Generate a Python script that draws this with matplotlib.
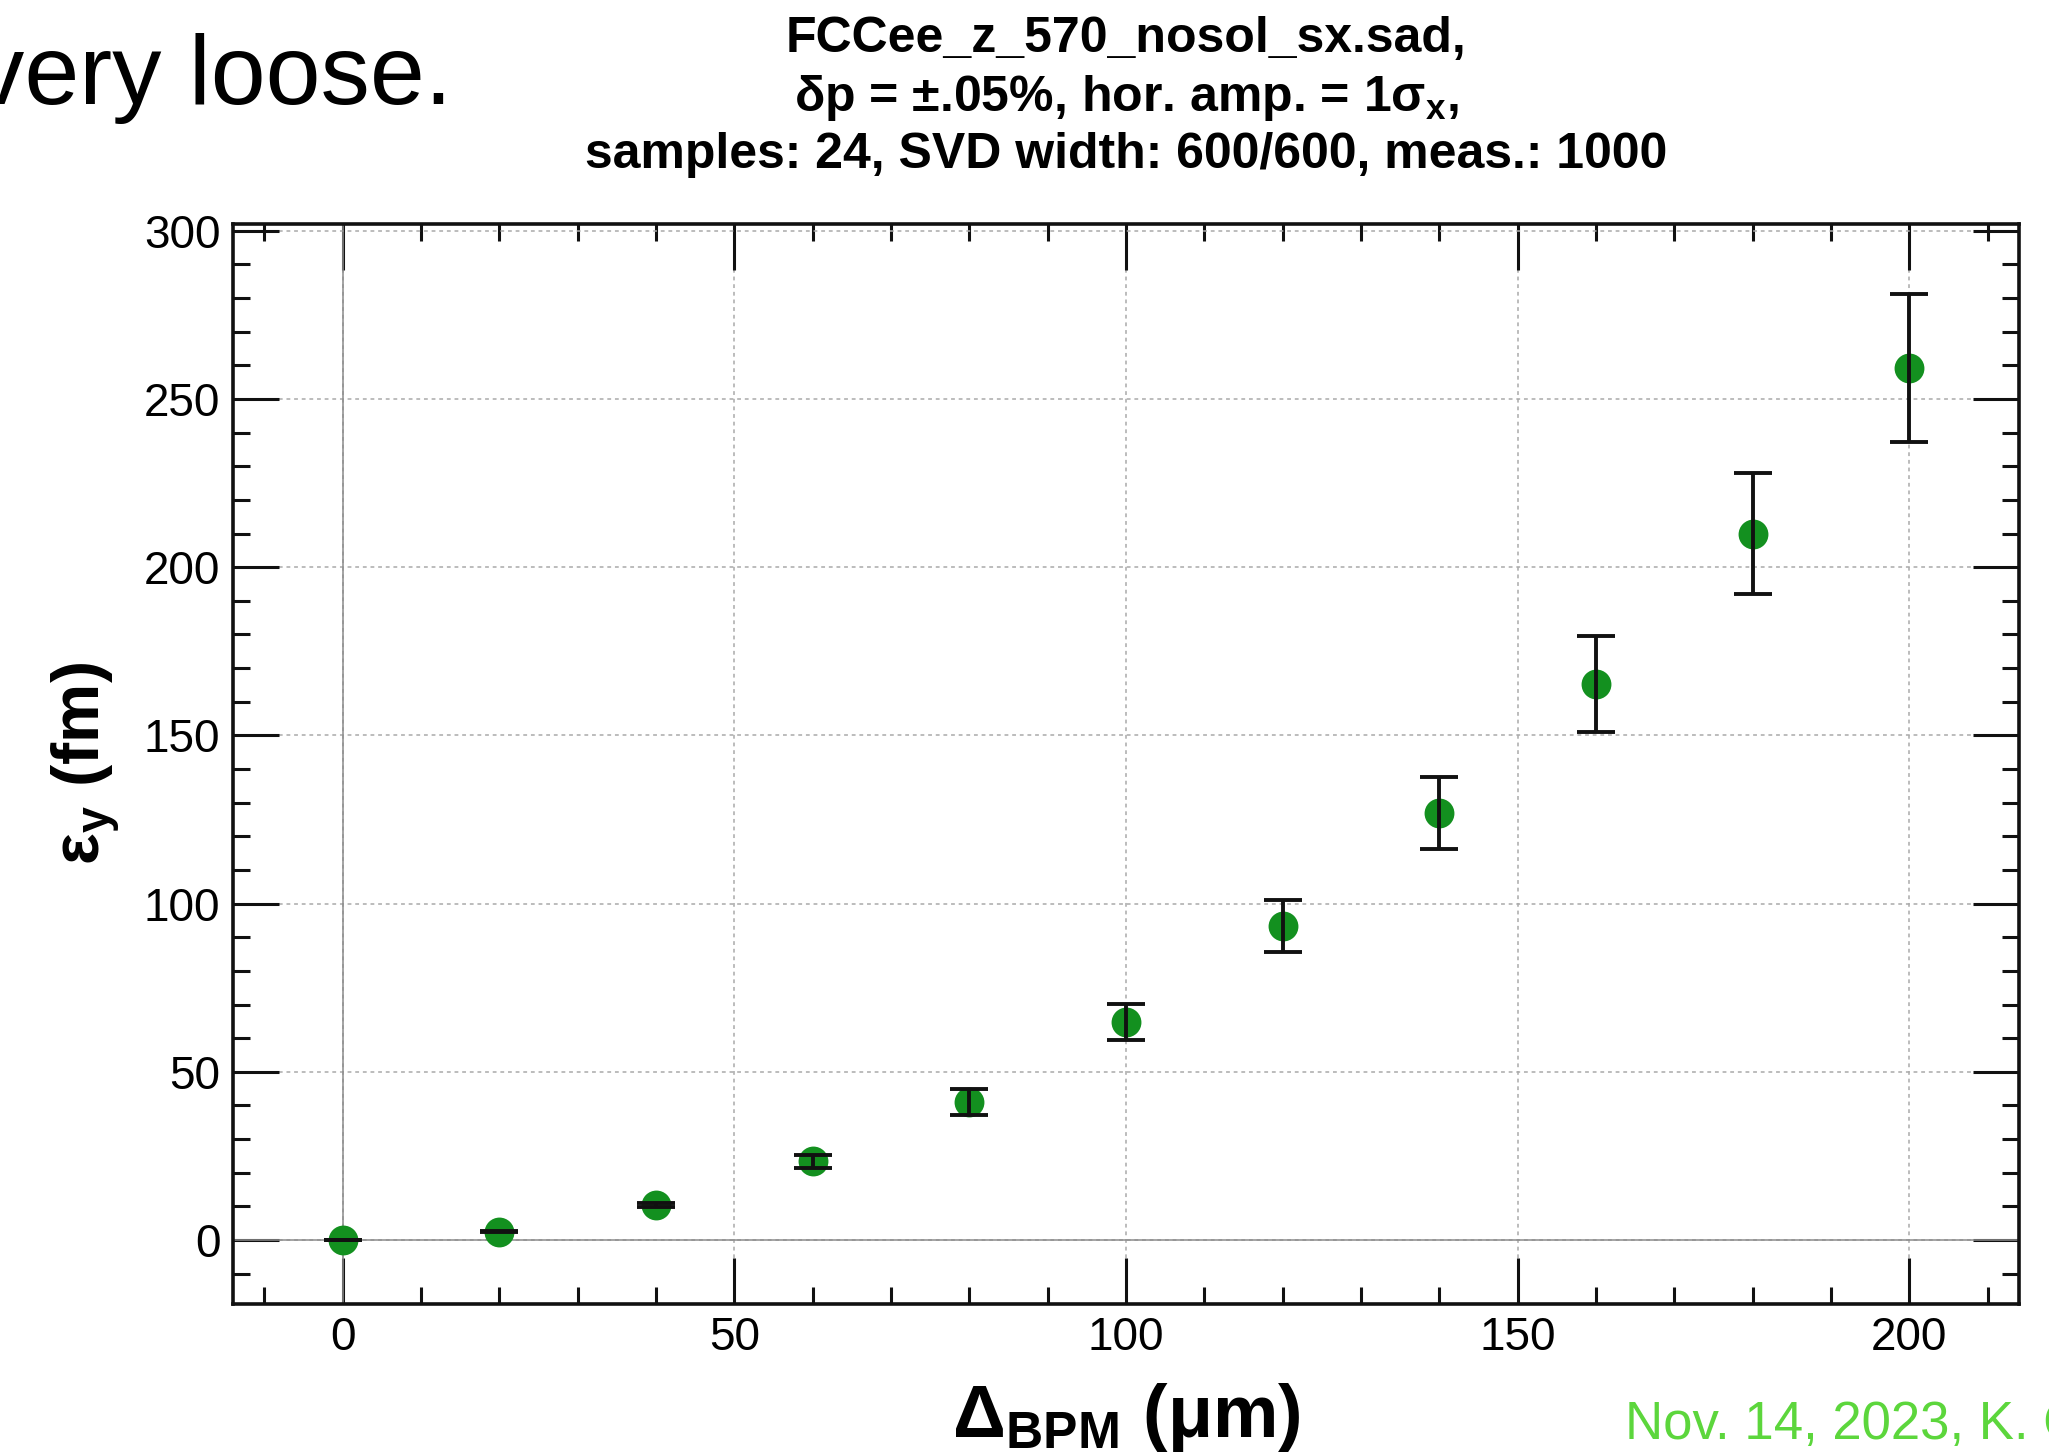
import matplotlib
matplotlib.use("Agg")
import matplotlib.pyplot as plt
from matplotlib.ticker import MultipleLocator


# Data

delta_bpm = [0, 20, 40, 60, 80, 100, 120, 140, 160, 180, 200]
emit_y = [0.0, 2.5, 10.4, 23.4, 41.0, 64.9, 93.4, 126.9, 165.2, 210.0, 259.3]
emit_err = [0.05, 0.2, 0.7, 1.85, 3.9, 5.3, 7.8, 10.6, 14.3, 18.0, 22.0]

title_lines = [
    "FCCee_z_570_nosol_sx.sad,",
    r"δp = ±.05%, hor. amp. = 1σ$_x$,",
    "samples: 24, SVD width: 600/600, meas.: 1000",
]


# Style

plt.rcParams.update({
    "font.family": ["Liberation Sans", "DejaVu Sans"],
    "mathtext.fontset": "custom",
    "mathtext.rm": "Liberation Sans:bold",
    "mathtext.it": "Liberation Sans:bold",
    "mathtext.bf": "Liberation Sans:bold",
    "mathtext.default": "rm",
    "figure.facecolor": "white",
    "axes.facecolor": "white",
})

fig = plt.figure(figsize=(20.49, 14.55), dpi=100)
ax = fig.add_axes([0.1137, 0.1038, 0.8717, 0.7422])


# Plot

ax.axhline(0, color="#8c8c8c", lw=1.1, zorder=1)
ax.axvline(0, color="#8c8c8c", lw=1.1, zorder=1)

ax.plot(
    delta_bpm,
    emit_y,
    "o",
    color="#13901f",
    markersize=21.5,
    markeredgewidth=0,
    zorder=3
)

ax.errorbar(
    delta_bpm,
    emit_y,
    yerr=emit_err,
    fmt="none",
    ecolor="#111111",
    elinewidth=2.8,
    capsize=14,
    capthick=2.8,
    zorder=4
)

ax.set_xlim(-14, 214)
ax.set_ylim(-19, 302)

ax.xaxis.set_major_locator(MultipleLocator(50))
ax.xaxis.set_minor_locator(MultipleLocator(10))
ax.yaxis.set_major_locator(MultipleLocator(50))
ax.yaxis.set_minor_locator(MultipleLocator(10))

ax.tick_params(
    which="both",
    direction="in",
    top=True,
    right=True,
    color="#111111",
    width=2.2,
    labelsize=33,
    pad=9
)
ax.tick_params(which="major", length=33)
ax.tick_params(which="minor", length=12)

for spine in ax.spines.values():
    spine.set_linewidth(2.6)
    spine.set_color("#111111")

ax.grid(
    which="major",
    color="#aaaaaa",
    linestyle=(0, (2.5, 2.5)),
    linewidth=1.1,
    zorder=0
)
ax.set_axisbelow(True)

ax.set_xlabel(r"$\Delta_{BPM}$ (μm)", fontsize=53, fontweight="bold", labelpad=15)
ax.set_ylabel(r"$ε_y$ (fm)", fontsize=48, fontweight="bold", labelpad=16)


# Title and slide text

for line, y in zip(title_lines, [1 - 52 / 1455, 1 - 111 / 1455, 1 - 168 / 1455]):
    fig.text(0.5496, y, line, ha="center", va="baseline",
             fontsize=36, fontweight="bold")

fig.text(452 / 2049, 1 - 104 / 1455, "very loose.", ha="right", va="baseline",
         fontsize=71)

fig.text(1625 / 2049, 1 - 1439 / 1455, "Nov. 14, 2023, K. Oide",
         ha="left", va="baseline", fontsize=38, color="#5cd63c")

fig.savefig("out.png", dpi=100)
